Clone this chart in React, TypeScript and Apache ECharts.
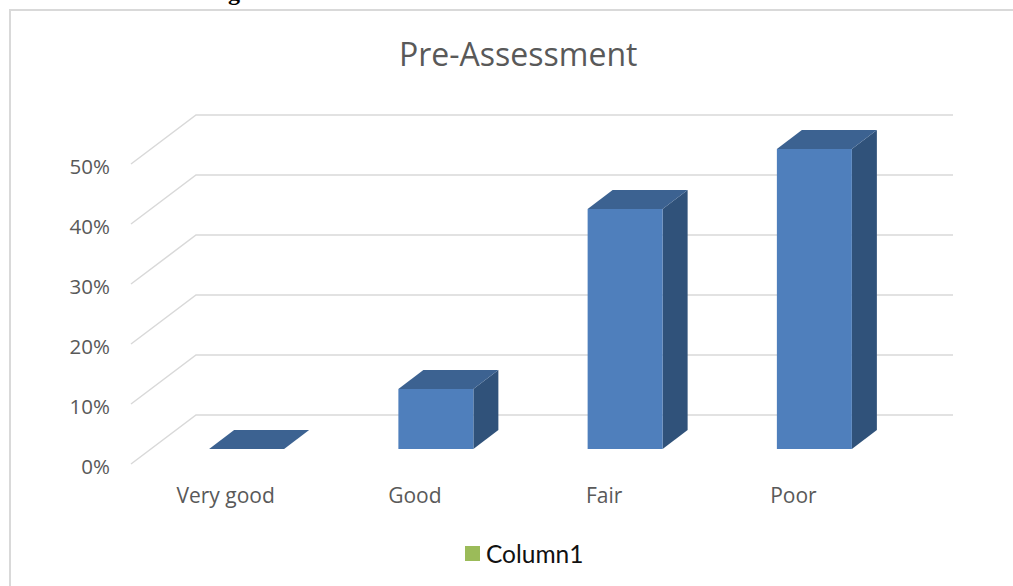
import React, { useEffect, useRef } from "react";
import * as echarts from "echarts";

const categories = ["Very good", "Good", "Fair", "Poor"];
const values = [0, 10, 40, 50];
const ticks = [0, 10, 20, 30, 40, 50];
const seriesName = "Column1";
const titleText = "Pre-Assessment";
const headingFragment = "g";

export default function App() {
  const ref = useRef<HTMLDivElement>(null);
  useEffect(() => {
    const chart = echarts.init(ref.current!, undefined, { renderer: "svg" });
    const font = "'Open Sans', sans-serif";
    chart.setOption({
      animation: false,
      backgroundColor: "#ffffff",
      title: {
        text: titleText,
        left: 394,
        top: 32,
        textStyle: { fontFamily: font, fontSize: 32, fontWeight: "normal", color: "#595959" },
      },
      legend: {
        data: [seriesName],
        left: 460,
        top: 536,
        icon: "rect",
        itemWidth: 15,
        itemHeight: 15,
        itemGap: 0,
        textStyle: { fontFamily: "Lato, sans-serif", fontSize: 24.5, color: "#111111", padding: [0, 0, 0, 1] },
      },
      grid: { left: 131, right: 125, top: 164, bottom: 122, containLabel: false },
      xAxis: {
        type: "category",
        data: categories,
        axisLine: { show: false },
        axisTick: { show: false },
        axisLabel: { fontFamily: font, fontSize: 21, color: "#595959", margin: 20 },
      },
      yAxis: {
        type: "value",
        min: 0,
        max: 50,
        interval: 10,
        axisLine: { show: false },
        axisTick: { show: false },
        splitLine: { show: false },
        axisLabel: {
          fontFamily: font,
          fontSize: 20.5,
          color: "#595959",
          margin: 21,
          verticalAlign: "top",
          lineHeight: 4,
          formatter: (v: number) => v + "%",
        },
      },
      series: [
        {
          type: "custom",
          name: "gridlines",
          silent: true,
          z: 1,
          data: ticks.map((t) => [0, t]),
          encode: { x: 0, y: 1 },
          renderItem: (params: any, api: any) => {
            const sys = params.coordSys;
            const y = api.coord([0, api.value(1)])[1];
            const dx = 65;
            const dy = 49;
            return {
              type: "polyline",
              shape: {
                points: [
                  [sys.x, y],
                  [sys.x + dx, y - dy],
                  [sys.x + sys.width + dx, y - dy],
                ],
              },
              style: { fill: "none", stroke: "#d9d9d9", lineWidth: 1.5 },
            };
          },
        },
        {
          type: "custom",
          name: seriesName,
          silent: true,
          z: 2,
          itemStyle: { color: "#9BBB59" },
          data: categories.map((_, i) => [i, values[i]]),
          encode: { x: 0, y: 1 },
          renderItem: (_params: any, api: any) => {
            const i = api.value(0);
            const top = api.coord([i, api.value(1)]);
            const base = api.coord([i, 0]);
            const halfW = 37.5;
            const offX = 21;
            const offY = 15;
            const depthX = 25;
            const depthY = 19;
            const l = top[0] + offX - halfW;
            const r = top[0] + offX + halfW;
            const t = top[1] - offY;
            const b = base[1] - offY;
            const children: any[] = [];
            if (b > t) {
              children.push({
                type: "polygon",
                shape: { points: [[r, t], [r + depthX, t - depthY], [r + depthX, b - depthY], [r, b]] },
                style: { fill: "#30527A" },
              });
              children.push({
                type: "rect",
                shape: { x: l, y: t, width: r - l, height: b - t },
                style: { fill: "#4F7FBC" },
              });
            }
            children.push({
              type: "polygon",
              shape: { points: [[l, t], [l + depthX, t - depthY], [r + depthX, t - depthY], [r, t]] },
              style: { fill: "#3C6291" },
            });
            return { type: "group", children };
          },
        },
      ],
      graphic: [
        {
          type: "polyline",
          silent: true,
          shape: { points: [[10, 586], [10, 10], [1013, 10]] },
          style: { fill: "none", stroke: "#d9d9d9", lineWidth: 2 },
        },
        {
          type: "text",
          silent: true,
          x: 234,
          y: 4,
          style: {
            text: headingFragment,
            align: "center",
            verticalAlign: "bottom",
            fill: "#000000",
            font: "bold 24px 'Liberation Serif', serif",
          },
        },
      ],
    });
    return () => chart.dispose();
  }, []);
  return (
    <div
      ref={ref}
      style={{ position: "fixed", left: 0, top: 0, width: 1013, height: 586 }}
    />
  );
}
